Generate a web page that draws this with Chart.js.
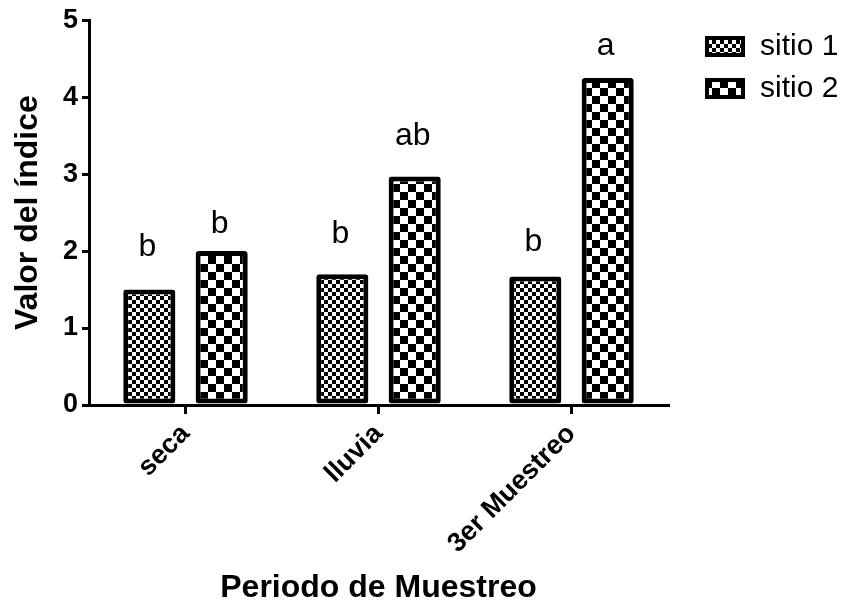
<!DOCTYPE html>
<html>
<head>
<meta charset="utf-8">
<script src="https://cdn.jsdelivr.net/npm/chart.js@4.4.0/dist/chart.umd.min.js"></script>
<style>
  html, body { margin: 0; padding: 0; background: #fff; }
  #wrap { width: 850px; height: 611px; }
</style>
</head>
<body>
<div id="wrap"><canvas id="barChart" width="850" height="611"></canvas></div>
<script>
// Data
const periods = ['seca', 'lluvia', '3er Muestreo'];
const sitio1 = [1.5, 1.7, 1.67];
const sitio2 = [2.0, 2.97, 4.25];
// significance letters and the value they sit on
const letras1 = ['b', 'b', 'b'];
const letras2 = ['b', 'ab', 'a'];
const letrasAt1 = [1.94, 2.11, 2.0];
const letrasAt2 = [2.23, 3.38, 4.55];
const yTicks = [0, 1, 2, 3, 4, 5];

const FONT = '"Liberation Sans", Arial, sans-serif';

// checkerboard fill
function checker(cell) {
    const c = document.createElement('canvas');
    c.width = cell * 2;
    c.height = cell * 2;
    const g = c.getContext('2d');
    g.fillStyle = '#fff';
    g.fillRect(0, 0, c.width, c.height);
    g.fillStyle = '#000';
    g.fillRect(0, 0, cell, cell);
    g.fillRect(cell, cell, cell, cell);
    return g.createPattern(c, 'repeat');
}

const ctx = document.getElementById('barChart').getContext('2d');
const fine = checker(4);
const coarse = checker(8);

// letters above bars
const letterPlugin = {
    id: 'letters',
    afterDatasetsDraw(chart) {
        const c = chart.ctx;
        const sets = [[letras1, letrasAt1], [letras2, letrasAt2]];
        c.save();
        c.fillStyle = '#000';
        c.font = '32px ' + FONT;
        c.textAlign = 'center';
        c.textBaseline = 'alphabetic';
        sets.forEach((s, i) => {
            const meta = chart.getDatasetMeta(i);
            meta.data.forEach((bar, j) => {
                c.fillText(s[0][j], bar.x - 2, chart.scales.y.getPixelForValue(s[1][j]));
            });
        });
        c.restore();
    }
};

// legend at the right
const legendPlugin = {
    id: 'sideLegend',
    afterDraw(chart) {
        const c = chart.ctx;
        c.save();
        c.font = '30px ' + FONT;
        c.textBaseline = 'middle';
        chart.data.datasets.forEach((ds, i) => {
            const y = 46 + i * 42;
            c.fillStyle = ds.backgroundColor;
            c.fillRect(707, y - 8, 36, 17);
            c.lineWidth = 4;
            c.strokeStyle = '#000';
            c.strokeRect(707, y - 8, 36, 17);
            c.fillStyle = '#000';
            c.fillText(ds.label, 760, y + 1);
        });
        c.restore();
    }
};

new Chart(ctx, {
    type: 'bar',
    data: {
        labels: periods,
        datasets: [{
            label: 'sitio 1',
            data: sitio1,
            backgroundColor: fine,
            borderColor: '#000',
            borderWidth: 5,
            borderRadius: 3,
            borderSkipped: false
        }, {
            label: 'sitio 2',
            data: sitio2,
            backgroundColor: coarse,
            borderColor: '#000',
            borderWidth: 5,
            borderRadius: 3,
            borderSkipped: false
        }]
    },
    options: {
        responsive: false,
        animation: false,
        layout: {
            padding: { top: 20, right: 182, left: 0, bottom: 0 }
        },
        datasets: {
            bar: { categoryPercentage: 0.75, barPercentage: 0.72 }
        },
        plugins: {
            legend: { display: false },
            tooltip: { enabled: false }
        },
        scales: {
            x: {
                offset: true,
                grid: {
                    offset: false,
                    drawOnChartArea: false,
                    drawTicks: true,
                    tickLength: 9,
                    color: '#000',
                    lineWidth: 3
                },
                border: { display: true, color: '#000', width: 3 },
                ticks: {
                    color: '#000',
                    minRotation: 45,
                    maxRotation: 45,
                    padding: 4,
                    font: { family: FONT, size: 27, weight: 'bold' }
                },
                title: {
                    display: true,
                    text: 'Periodo de Muestreo',
                    color: '#000',
                    padding: { top: 4, bottom: 4 },
                    font: { family: FONT, size: 32, weight: 'bold' }
                },
                afterFit: function(scale) { scale.height = 206; }
            },
            y: {
                min: 0,
                max: 5,
                afterBuildTicks: function(scale) {
                    scale.ticks = yTicks.map(v => ({ value: v }));
                },
                grid: {
                    drawOnChartArea: false,
                    drawTicks: true,
                    tickLength: 7,
                    color: '#000',
                    lineWidth: 3
                },
                border: { display: true, color: '#000', width: 3 },
                ticks: {
                    color: '#000',
                    padding: 4,
                    font: { family: FONT, size: 27, weight: 'bold' }
                },
                title: {
                    display: true,
                    text: 'Valor del índice',
                    color: '#000',
                    padding: { top: 9, bottom: 4 },
                    font: { family: FONT, size: 32, weight: 'bold' }
                },
                afterFit: function(scale) { scale.width = 89; }
            }
        }
    },
    plugins: [letterPlugin, legendPlugin]
});
</script>
</body>
</html>
